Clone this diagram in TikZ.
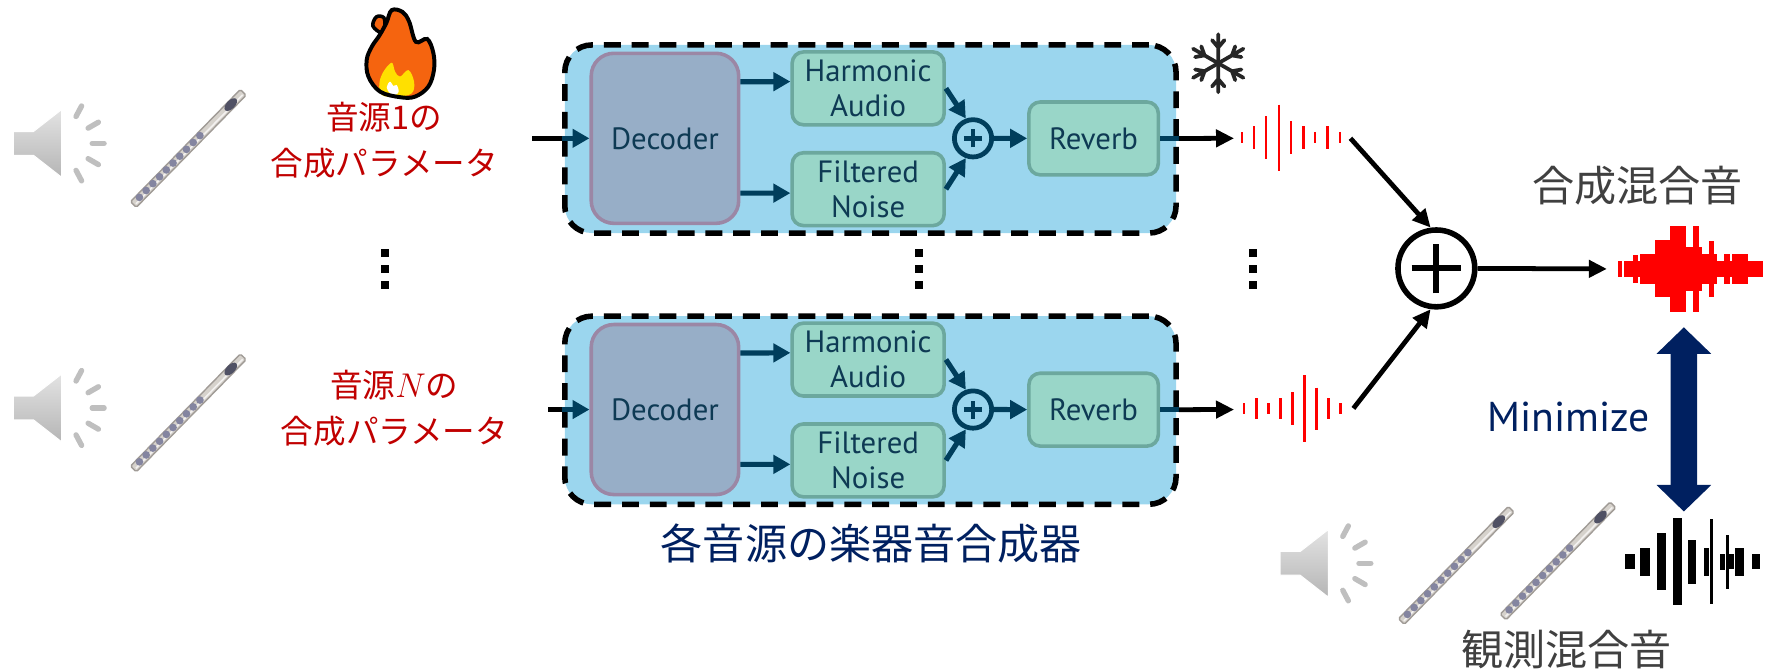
\documentclass[tikz,border=0pt]{standalone}
\usepackage{fontspec}
\setmainfont{PT Sans}
\newfontfamily\jpfont{Noto Sans CJK JP}
\usepackage{tikz}
\usetikzlibrary{arrows.meta}
\usetikzlibrary{positioning}

\definecolor{synthblue}{RGB}{155,214,238}
\definecolor{decfill}{RGB}{151,174,199}
\definecolor{decline}{RGB}{155,135,165}
\definecolor{modfill}{RGB}{153,214,200}
\definecolor{modline}{RGB}{108,168,158}
\definecolor{modtext}{RGB}{14,58,84}
\definecolor{flowline}{RGB}{0,62,92}
\definecolor{paramred}{RGB}{192,0,0}
\definecolor{navy}{RGB}{0,32,96}
\definecolor{wavered}{RGB}{255,0,0}
\definecolor{capgray}{RGB}{64,64,64}
\definecolor{flame}{RGB}{245,100,15}
\definecolor{flamein}{RGB}{255,224,0}
\definecolor{flutebody}{RGB}{214,210,204}
\definecolor{fluteedge}{RGB}{160,155,150}
\definecolor{flutekey}{RGB}{132,133,160}
\definecolor{flutehead}{RGB}{80,81,100}

\tikzset{
  synth/.style={draw=black, line width=2.8pt, dash pattern=on 8.5pt off 5.5pt,
    fill=synthblue, rounded corners=0.48cm, minimum width=10.82cm, minimum height=3.33cm},
  decoder/.style={draw=decline, line width=1.8pt, fill=decfill, rounded corners=0.4cm,
    minimum width=2.61cm, minimum height=3.01cm, text=modtext, font=\fontsize{15.5}{18}\selectfont},
  module/.style={draw=modline, line width=1.8pt, fill=modfill, rounded corners=0.2cm,
    minimum width=2.69cm, minimum height=1.29cm, align=center, text=modtext,
    font=\fontsize{15.5}{17.6}\selectfont},
  adder/.style={circle, draw=flowline, line width=2.4pt, minimum size=0.66cm, inner sep=0pt},
  flow/.style={draw=flowline, line width=2.6pt, -{Triangle[length=0.3cm, width=0.32cm]}},
  signal/.style={draw=black, line width=2.4pt, -{Triangle[length=0.32cm, width=0.3cm]}},
  param/.style={text=paramred, align=center, font=\jpfont\fontsize{16.4}{23}\selectfont},
  caption/.style={font=\jpfont\fontsize{21.2}{24}\selectfont},
  wavebox/.style={inner sep=0pt, minimum width=#1},
}

\newcommand{\speaker}[1]{%
  \begin{scope}[shift={#1}]
    \shade[top color=gray!22, bottom color=gray!58, draw=white, line width=0.5pt]
      (-42.8,-10.5) -- (-25,-10.5) -- (0,-30) -- (0,30) -- (-25,10.5) -- (-42.8,10.5) -- cycle;
    \foreach \a in {62,30,0,-30,-62}
      \draw[gray!50, line width=2.7pt, line cap=round] (\a:27) -- (\a:37.5);
  \end{scope}}

\newcommand{\flute}[1]{%
  \begin{scope}[shift={#1}, rotate=45.6]
    \draw[fill=flutebody, draw=fluteedge, line width=0.7pt, rounded corners=0.8pt]
      (0,-3.6) rectangle (139,3.6);
    \draw[white!70!flutebody, line width=0.8pt] (2,1.2) -- (137,1.2);
    \foreach \k in {0,...,9}
      \fill[flutekey] ({8.3+\k*8.5},-0.6) circle (0.068cm);
    \fill[flutehead] (123.5,-0.3) ellipse (0.14cm and 0.075cm);
  \end{scope}}

\begin{document}
\begin{tikzpicture}[x=0.02cm, y=-0.02cm]
  \useasboundingbox (0,0) rectangle (1568,594);

  \newcommand{\spikes}[2]{%
    \begin{scope}[shift={#1}]
      \foreach \x/\h in {#2}
        \draw[wavered, line width=1.2pt] (\x,{-\h/2}) -- (\x,{\h/2});
    \end{scope}}
  \newcommand{\bars}[3]{%
    \foreach \a/\b/\h in {#2}
      \fill[#3] (\a,{#1-\h/2}) rectangle (\b,{#1+\h/2});}

  \foreach \b/\dy/\x in {1/0/471, 2/240/485} {
    \node[synth] (frame\b) at (770.2,{123+\dy}) {};
    \node[decoder] (dec\b) at (588.4,{122.4+\dy}) {Decoder};
    \node[module] (harm\b) at (768.2,{78.2+\dy}) {Harmonic\\Audio};
    \node[module] (noise\b) at (768.2,{167.4+\dy}) {Filtered\\Noise};
    \node[adder] (add\b) at (861,{122.4+\dy}) {};
    \node[module, minimum width=2.29cm] (rev\b) at (967.7,{122.5+\dy}) {Reverb};
    \coordinate (in\b) at (\x,{122.4+\dy});

    \draw[flowline, line width=2.2pt]
      ([xshift=-0.16cm]add\b.center) -- ([xshift=0.16cm]add\b.center)
      ([yshift=-0.16cm]add\b.center) -- ([yshift=0.16cm]add\b.center);

    \draw[black, line width=2.4pt] (in\b) -- (frame\b.west |- in\b);
    \draw[flow] (frame\b.west |- in\b) -- (dec\b.west);
    \draw[flow] ([yshift=1cm]dec\b.east) -- ([yshift=0.12cm]harm\b.west);
    \draw[flow] ([yshift=-0.97cm]dec\b.east) -- ([yshift=-0.07cm]noise\b.west);
    \draw[flow] (harm\b.east) -- (add\b.110);
    \draw[flow] (noise\b.east) -- (add\b.250);
    \draw[flow] (add\b) -- (rev\b);
    \draw[flowline, line width=2.6pt] (rev\b.east) -- (frame\b.east |- rev\b.east);
  }

  \speaker{(54.6,126.9)}
  \speaker{(54.6,361)}
  \speaker{(1175.5,498.5)}
  \flute{(118,181)}
  \flute{(118,415)}
  \flute{(1240,550)}
  \flute{(1330,546)}

  \node[param] (par1) at (340,124.3) {音源1の\\合成パラメータ};
  \node[param] (par2) at (349,361.5) {音源$N$の\\合成パラメータ};

  % flame over the first parameter set
  \begin{scope}[shift={(353,86)}, yscale=-1]
    \def\flameout{(1,0) (-16.7,4.9) (-27,18.2) (-28.5,33) (-24,44.7) (-17,55) (-11,66)
      (-6.4,77) (3,75.5) (9,67) (15,49) (25,51.5) (30.5,39) (31,24) (26,9.3) (14.3,0.5)}
    \filldraw[fill=flame, draw=black, line width=1.8pt]
      plot[smooth cycle, tension=0.6] coordinates {(-15.5,57) (-23,63) (-20,71) (-13.5,70.5) (-12.5,63)};
    \fill[flame] plot[smooth cycle, tension=0.6] coordinates {\flameout};
    \fill[flamein] plot[smooth cycle, tension=0.6] coordinates {(-15.2,1.9) (-17.3,12.3)
      (-13.7,22.6) (-6.4,30.5) (-3.4,22.6) (1,18.2) (8.4,24) (13.4,13.7) (11.3,3.4) (-1.9,0.5)};
    \fill[white] plot[smooth cycle, tension=0.6] coordinates {(-7.9,3.4) (-10.8,8.7)
      (-7.9,13.7) (-4.9,9.9) (-2,10.8) (-0.2,4.9) (-3.4,2)};
    \draw[black, line width=2pt] plot[smooth cycle, tension=0.6] coordinates {\flameout};
  \end{scope}

  % snowflake over the frozen synthesizer
  \foreach \a in {30,90,...,330}
    \draw[black!85, line width=1.9pt, line cap=round, shift={(1078,56)}, rotate=\a]
      (0,0) -- (25.7,0) (14,0) -- ++(40:8.5) (14,0) -- ++(-40:8.5);

  \foreach \x in {341,813,1108.6}
    \foreach \y in {224,238,252}
      \fill (\x-3.6,\y-3.6) rectangle (\x+3.6,\y+3.6);

  \coordinate (w1in) at (1092,122.4);
  \coordinate (w1out) at (1195,122.4);
  \coordinate (w2in) at (1092,362.4);
  \coordinate (w2out) at (1197.6,361.4);
  \draw[signal] (frame1.east |- rev1.east) -- (w1in);
  \draw[signal] (frame2.east |- rev2.east) -- (w2in);
  \spikes{(1142.5,121.8)}{-43.5/9.4, -32.9/20, -22.1/37.8, -10.9/58.4, 0/28.6, 10.8/20, 21.3/10.3, 32.1/20, 43/10.3}
  \spikes{(1143.6,361.7)}{-42.6/10, -31.9/19, -21.3/10, -10.6/19, 0/29.5, 10.6/59, 21.2/37.5, 31.8/19, 42.4/10}

  \node[circle, draw, line width=2.8pt, minimum size=1.36cm, inner sep=0pt] (sum) at (1271,237.5) {};
  \draw[line width=3pt] ([xshift=-0.44cm]sum.center) -- ([xshift=0.44cm]sum.center)
    ([yshift=-0.44cm]sum.center) -- ([yshift=0.44cm]sum.center);
  \draw[signal] (w1out) -- (sum.98);
  \draw[signal] (w2out) -- (sum.262);

  \node[wavebox=2.57cm, minimum height=1.53cm] (mix) at (1495.5,238) {};
  \bars{238}{1431.3/1435.1/14.8, 1437.4/1444.8/14.5, 1444.8/1449/24.8, 1449/1451.3/14.5,
    1451.3/1464.6/26.6, 1464.6/1477.9/50.4, 1477.9/1491.7/76.4, 1491.7/1498.5/38.4,
    1498.5/1503/76.4, 1503/1505.9/38.4, 1505.9/1512.4/26.6, 1512.4/1516.8/49.3,
    1516.8/1519.2/26.6, 1519.2/1525.9/14.5, 1525.9/1530.4/26.6, 1530.4/1532.4/14.5,
    1532.4/1546.3/26.6, 1546.3/1559.6/14.5}{wavered}
  \draw[signal, shorten >=0.18cm] (sum.east) -- (mix.west);

  \node[wavebox=2.38cm, minimum height=1.54cm] (obs) at (1497.5,497) {};
  \bars{497}{1438/1447/13, 1451/1460/25, 1466/1474/50, 1480/1488/77, 1494/1501/39,
    1507.4/1511.8/25, 1513.3/1515.4/75, 1522/1526.5/14, 1527.4/1529.5/48,
    1529.5/1534/13, 1535.5/1543.5/25, 1550/1557/13}{black}

  \draw[navy, line width=0.47cm, shorten <=0.26cm, shorten >=0.11cm,
    {Triangle[length=0.47cm, width=0.94cm]}-{Triangle[length=0.47cm, width=0.94cm]}]
    ([xshift=-0.11cm]mix.south) -- ([xshift=-0.15cm]obs.north);

  \node[caption, text=capgray] (mixlab) at (1449,164) {合成混合音};
  \node[caption, text=capgray] (obslab) at (1386,575) {観測混合音};
  \node[caption, text=navy] (synlab) at (771,481) {各音源の楽器音合成器};
  \node[text=navy, font=\fontsize{21}{24}\selectfont] (minlab) at (1388,369) {Minimize};
\end{tikzpicture}
\end{document}
